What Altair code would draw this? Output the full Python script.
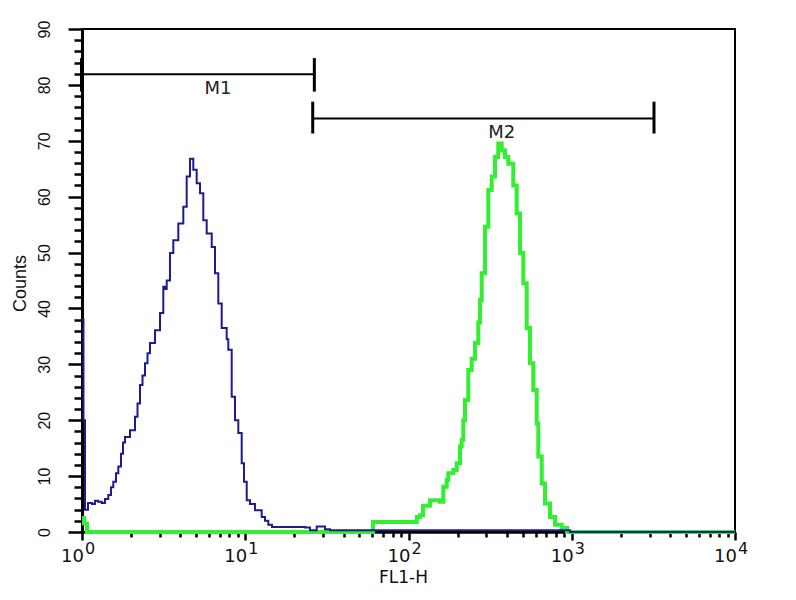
import altair as alt
import pandas as pd

# ---- data ----
blue_x = [1.0, 1.021, 1.043, 1.088, 1.152, 1.201, 1.253, 1.320, 1.383, 1.449, 1.505, 1.555,
          1.615, 1.669, 1.733, 1.783, 1.834, 1.968, 2.112, 2.188, 2.266, 2.348, 2.432, 2.519,
          2.609, 2.801, 3.005, 3.148, 3.224, 3.303, 3.459, 3.625, 3.890, 4.174, 4.378, 4.587,
          4.806, 5.041, 5.284, 5.534, 5.805, 6.231, 6.527, 6.838, 7.173, 7.697, 7.873, 8.260,
          8.654, 9.067, 9.512, 9.824, 10.21, 10.69, 11.47, 12.61, 13.21, 13.84, 14.58, 23.23,
          24.93, 27.40, 30.80, 33.04, 847.0, 975.0, 10000.0]
blue_y = [38, 20, 4.0, 5.2, 5.0, 5.6, 5.4, 5.2, 5.9, 6.6, 8.0, 9.0,
          10.5, 11.7, 14.0, 16.0, 17.0, 18.2, 20.6, 23.0, 26.3, 28.0, 30.2, 32.0,
          33.8, 36.1, 39.2, 43.9, 43.5, 45.0, 49.9, 52.2, 55.2, 58.2, 63.6, 66.8,
          64.8, 62.4, 60.6, 55.8, 53.4, 51.0, 46.3, 40.9, 36.5, 34.5, 32.6, 24.2,
          20.0, 17.7, 12.3, 9.0, 5.7, 5.0, 3.9, 2.7, 2.0, 1.3, 0.9, 0.8,
          0.3, 1.0, 0.5, 0.3, 0.3, 0.0, 0.0]

green_x = [1.0, 1.029, 1.073, 60.6, 112.3, 117.6, 122.7, 135.4, 156.0, 163.4, 171.4, 175.3,
           188.1, 197.4, 206.8, 211.8, 216.6, 221.8, 232.4, 243.8, 255.4, 267.6, 274.1, 280.8,
           294.1, 308.2, 323.3, 338.7, 354.8, 372.3, 390.1, 408.7, 438.5, 459.9, 481.9, 505.0,
           529.7, 554.9, 581.4, 610.0, 624.0, 654.6, 685.8, 736.0, 789.6, 867.9, 935.2, 1022.0,
           10000.0]
green_y = [2.5, 1.5, 0.0, 1.8, 2.7, 3.0, 4.7, 5.7, 5.4, 8.1, 9.3, 10.5,
           11.1, 12.3, 15.3, 16.5, 20.0, 23.6, 29.0, 31.0, 33.8, 37.5, 41.5, 46.3,
           54.6, 61.2, 63.6, 67.1, 69.5, 68.3, 67.1, 65.9, 62.0, 57.0, 49.9, 44.5,
           36.5, 30.2, 25.4, 19.4, 13.5, 8.7, 5.1, 2.7, 1.3, 0.7, 0.0, 0.0,
           0.0]

# markers
marker_names = ["M1", "M2"]
marker_lo = [1.0, 25.9]
marker_hi = [26.5, 3190.0]
marker_level = [81.9, 74.0]
marker_tick_lo = [78.8, 71.3]
marker_tick_hi = [84.8, 77.0]
marker_label_x = [6.81, 372.0]
marker_label_y = [79.3, 71.4]

decades = [1, 10, 100, 1000, 10000]
decade_exp = ["0", "1", "2", "3", "4"]

x_ticks = [m * d for d in [1, 10, 100, 1000] for m in range(1, 10)] + [10000]
y_ticks = list(range(0, 91, 2))

FONT = "Liberation Sans"
WFONT = "DejaVu Sans"

blue_df = pd.DataFrame({"x": blue_x, "y": blue_y})
green_df = pd.DataFrame({"x": green_x, "y": green_y})
mk = pd.DataFrame({"name": marker_names, "lo": marker_lo, "hi": marker_hi,
                   "level": marker_level, "tlo": marker_tick_lo, "thi": marker_tick_hi,
                   "lx": marker_label_x, "ly": marker_label_y})
ends = pd.DataFrame({"x": [marker_lo[0], marker_hi[0], marker_lo[1], marker_hi[1]],
                     "tlo": [marker_tick_lo[0], marker_tick_lo[0], marker_tick_lo[1], marker_tick_lo[1]],
                     "thi": [marker_tick_hi[0], marker_tick_hi[0], marker_tick_hi[1], marker_tick_hi[1]],
                     "w": [4, 3, 3, 3]})
dec_df = pd.DataFrame({"x": decades, "e": decade_exp, "y": [0] * 5})

xscale = alt.Scale(type="log", domain=[1, 10000], nice=False)
yscale = alt.Scale(domain=[0, 90], nice=False)

x_axis = alt.Axis(values=x_ticks, labels=False, grid=False, orient="bottom",
                  tickSize={"condition": {"test": "indexof([1,10,100,1000,10000], datum.value) >= 0", "value": 8}, "value": 5},
                  tickColor="black", tickWidth=2.5, domainColor="black", domainWidth=2.5,
                  title="FL1-H", titleFont=WFONT, titleFontSize=17, titleFontWeight="normal",
                  titleColor="#111", titleY=37, titleBaseline="top", titleX=321)
y_axis = alt.Axis(values=y_ticks, grid=False, labelOverlap=False, orient="left",
                  labelExpr="datum.value % 10 === 0 ? datum.label : ''",
                  tickSize={"condition": {"test": "datum.value % 10 === 0", "value": 14}, "value": 8},
                  tickColor="black", tickWidth=2.5, domainColor="black", domainWidth=3,
                  labelAngle=-90, labelAlign="center", labelBaseline="middle", labelPadding=24,
                  labelFont=FONT, labelFontSize=16, labelColor="#111",
                  title="Counts", titleFont=FONT, titleFontSize=18, titleFontWeight="normal",
                  titleColor="#111", titleX=-62, titleY=254, titleAngle=-90,
                  titleAlign="center", titleBaseline="middle")


def X(field, **kw):
    return alt.X(field, scale=xscale, axis=None, **kw)


def Y(field, **kw):
    return alt.Y(field, scale=yscale, axis=None, **kw)


green = alt.Chart(green_df).mark_line(interpolate="step-after", color="#33ee33", strokeWidth=4).encode(
    x=alt.X("x:Q", scale=xscale, axis=x_axis),
    y=alt.Y("y:Q", scale=yscale, axis=y_axis),
)
blue = alt.Chart(blue_df).mark_line(interpolate="step-after", color="#1c1c8f", strokeWidth=2).encode(
    x=X("x:Q"), y=Y("y:Q"))

hbar = alt.Chart(mk).mark_rule(color="black", strokeWidth=2).encode(
    x=X("lo:Q"), x2="hi:Q", y=Y("level:Q"))
vbar = alt.Chart(ends).mark_rule(color="black").encode(
    x=X("x:Q"), y=Y("tlo:Q"), y2="thi:Q",
    strokeWidth=alt.StrokeWidth("w:Q", scale=None, legend=None))
mlabel = alt.Chart(mk).mark_text(font=WFONT, fontSize=18, color="#222", align="center", baseline="middle").encode(
    x=X("lx:Q"), y=Y("ly:Q"), text="name:N")

base10 = alt.Chart(dec_df).mark_text(font=WFONT, fontSize=18, color="#111", align="right",
                                     baseline="alphabetic", dx=2, dy=30).encode(
    x=X("x:Q"), y=Y("y:Q"), text=alt.value("10"))
expo = alt.Chart(dec_df).mark_text(font=WFONT, fontSize=16, color="#111", align="left",
                                   baseline="alphabetic", dx=3, dy=22).encode(
    x=X("x:Q"), y=Y("y:Q"), text="e:N")

chart = alt.layer(green, blue, hbar, vbar, mlabel, base10, expo).resolve_axis(
    x="independent", y="independent"
).properties(
    width=653, height=503,
    autosize=alt.AutoSizeParams(type="none"),
    padding={"left": 74, "top": 21, "right": 40, "bottom": 62},
    background="white",
).configure_view(stroke="black", strokeWidth=2
).configure_axisY(labelFontSize=16, labelFont=FONT, domainWidth=3, tickWidth=2.5)

chart.save("out.html", embed_options={"renderer": "svg", "actions": False})
